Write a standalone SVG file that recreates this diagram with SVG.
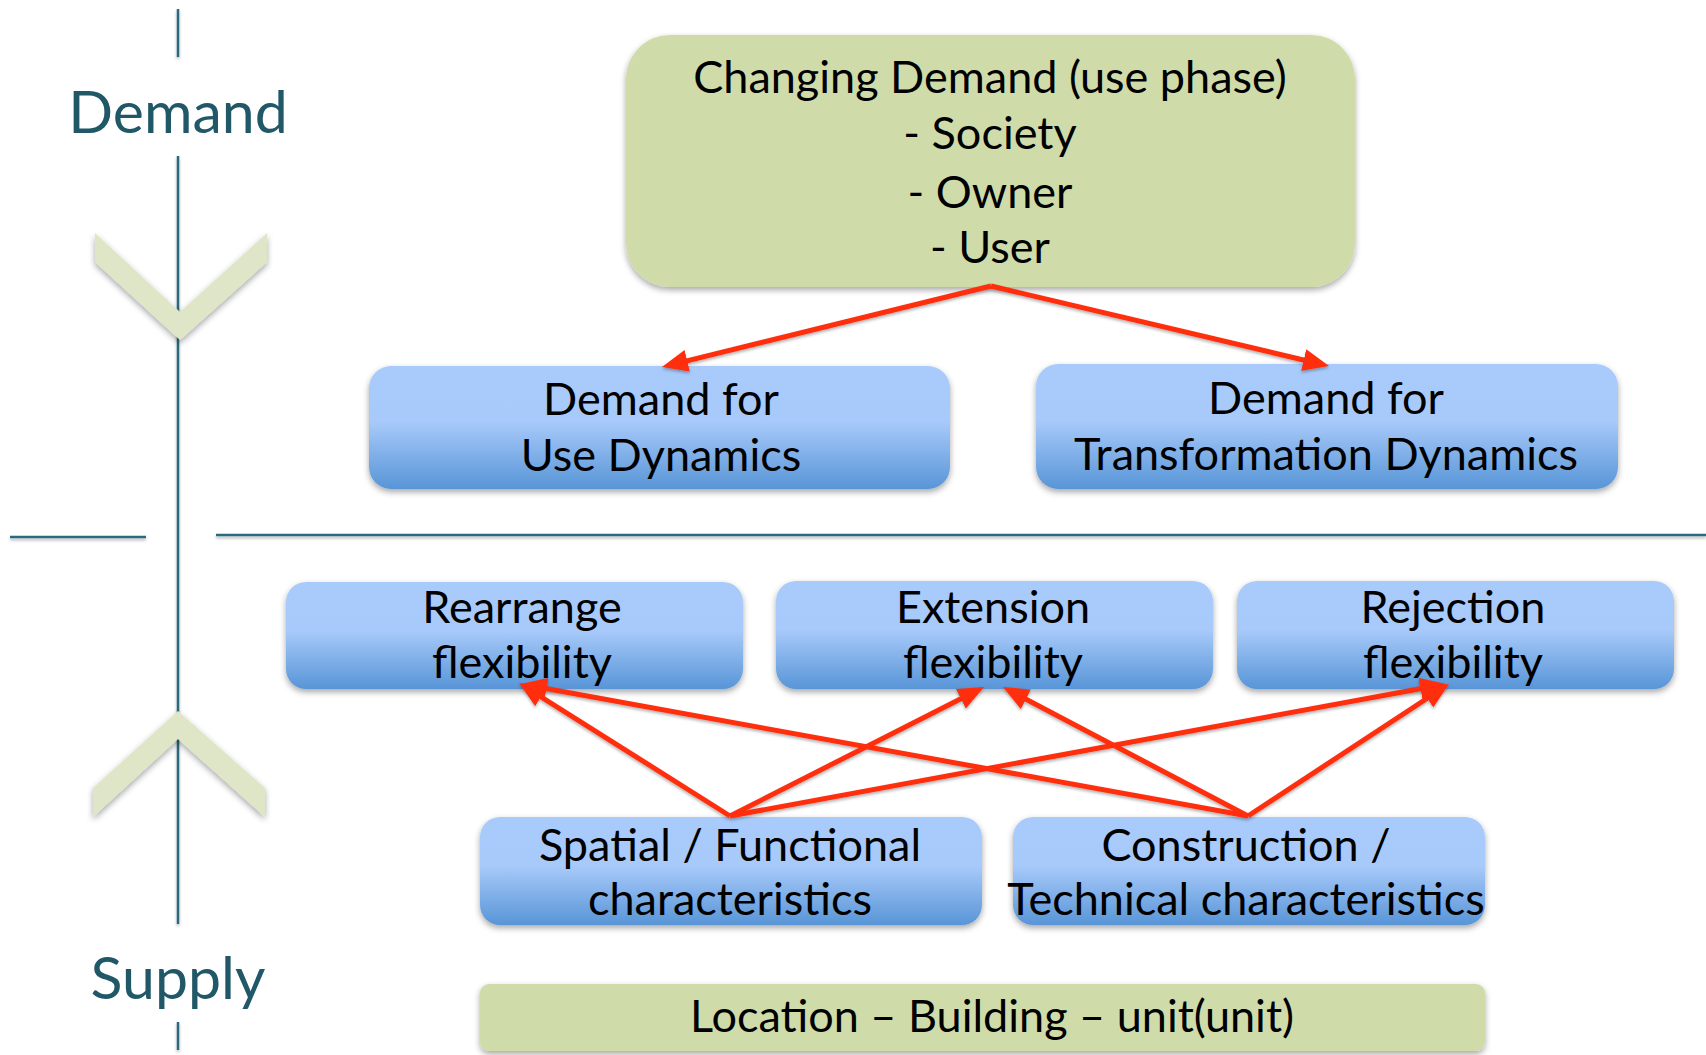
<svg xmlns="http://www.w3.org/2000/svg" width="1706" height="1055" viewBox="0 0 1706 1055">
<defs>
<style>
.t{font-family:Lato,"Open Sans",sans-serif;font-size:45px;fill:#000;text-anchor:middle}
.lab{font-family:Lato,"Open Sans",sans-serif;font-size:59px;fill:#215868;text-anchor:middle}
.ax{stroke:#2c6b7e;stroke-width:2.5;fill:none}
.chev{fill:#dfe6c7}
.green{fill:#cfdcaa}
.blue{fill:url(#bg)}
.con{stroke:#ff2d0c;stroke-width:5;fill:none;marker-end:url(#ah)}
</style>
<linearGradient id="bg" x1="0" y1="0" x2="0" y2="1">
<stop offset="0" stop-color="#a9cbfb"/>
<stop offset="0.45" stop-color="#a8cafa"/>
<stop offset="1" stop-color="#5895d7"/>
</linearGradient>
<filter id="sh" x="-5%" y="-10%" width="110%" height="130%">
<feDropShadow dx="0" dy="3" stdDeviation="3" flood-color="#000" flood-opacity="0.35"/>
</filter>
<filter id="shl" x="-5%" y="-50%" width="110%" height="200%">
<feDropShadow dx="0" dy="2" stdDeviation="1.5" flood-color="#000" flood-opacity="0.3"/>
</filter>
<marker id="ah" viewBox="0 0 26 22" refX="16" refY="11" markerWidth="26" markerHeight="22" markerUnits="userSpaceOnUse" orient="auto">
<path d="M0,0 L26,11 L0,22 z" fill="#ff2d0c"/>
</marker>
</defs>
<rect width="1706" height="1055" fill="#fff"/>

<g id="axis" filter="url(#shl)">
<line class="ax" x1="178" y1="9" x2="178" y2="57"/>
<line class="ax" x1="178" y1="156" x2="178" y2="924"/>
<line class="ax" x1="178" y1="1022" x2="178" y2="1050"/>
<line class="ax" x1="10" y1="537" x2="146" y2="537"/>
<line class="ax" x1="216" y1="535" x2="1706" y2="535"/>
</g>
<g id="chevron-down" filter="url(#sh)">
<polygon class="chev" points="95,233 180,312 267,233 267,262 180,340 95,262"/>
</g>
<g id="chevron-up" filter="url(#sh)">
<polygon class="chev" points="93,788 178,711 265,788 265,817 178,739 93,817"/>
</g>
<g id="label-demand"><text class="lab" x="178" y="133">Demand</text></g>
<g id="label-supply"><text class="lab" x="178" y="999">Supply</text></g>

<g id="changing-demand">
<rect class="green" x="626" y="35" width="729" height="252" rx="44" filter="url(#sh)"/>
<text class="t" x="990" y="93">Changing Demand (use phase)</text>
<text class="t" x="990" y="149">- Society</text>
<text class="t" x="990" y="208">- Owner</text>
<text class="t" x="990" y="263">- User</text>
</g>
<g id="use-dynamics">
<rect class="blue" x="369" y="366" width="581" height="123" rx="22" filter="url(#sh)"/>
<text class="t" x="661" y="415">Demand for</text>
<text class="t" x="661" y="471">Use Dynamics</text>
</g>
<g id="transformation-dynamics">
<rect class="blue" x="1036" y="364" width="582" height="125" rx="22" filter="url(#sh)"/>
<text class="t" x="1326" y="414">Demand for</text>
<text class="t" x="1326" y="470">Transformation Dynamics</text>
</g>
<g id="rearrange">
<rect class="blue" x="286" y="582" width="457" height="107" rx="20" filter="url(#sh)"/>
<text class="t" x="522" y="623">Rearrange</text>
<text class="t" x="522" y="678">flexibility</text>
</g>
<g id="extension">
<rect class="blue" x="776" y="581" width="437" height="108" rx="20" filter="url(#sh)"/>
<text class="t" x="993" y="623">Extension</text>
<text class="t" x="993" y="678">flexibility</text>
</g>
<g id="rejection">
<rect class="blue" x="1237" y="581" width="437" height="108" rx="20" filter="url(#sh)"/>
<text class="t" x="1453" y="623">Rejection</text>
<text class="t" x="1453" y="678">flexibility</text>
</g>
<g id="spatial">
<rect class="blue" x="480" y="817" width="502" height="108" rx="20" filter="url(#sh)"/>
<text class="t" x="730" y="861">Spatial / Functional</text>
<text class="t" x="730" y="915">characteristics</text>
</g>
<g id="construction">
<rect class="blue" x="1013" y="817" width="472" height="108" rx="20" filter="url(#sh)"/>
<text class="t" x="1246" y="861">Construction /</text>
<text class="t" x="1246" y="915">Technical characteristics</text>
</g>
<g id="location">
<rect class="green" x="480" y="984" width="1005" height="67" rx="9" filter="url(#sh)"/>
<text class="t" x="992" y="1032">Location – Building – unit(unit)</text>
</g>

<g id="connectors" filter="url(#shl)">
<line class="con" x1="991" y1="286" x2="671.7" y2="364.6"/>
<line class="con" x1="991" y1="286" x2="1319.3" y2="363.7"/>
<line class="con" x1="730" y1="816" x2="527.5" y2="688.3"/>
<line class="con" x1="730" y1="816" x2="975.1" y2="691.5"/>
<line class="con" x1="730" y1="816" x2="1436.2" y2="685.8"/>
<line class="con" x1="1248" y1="816" x2="530.8" y2="685.8"/>
<line class="con" x1="1248" y1="816" x2="1011.8" y2="691.7"/>
<line class="con" x1="1248" y1="816" x2="1440.6" y2="689.5"/>
</g>
</svg>
